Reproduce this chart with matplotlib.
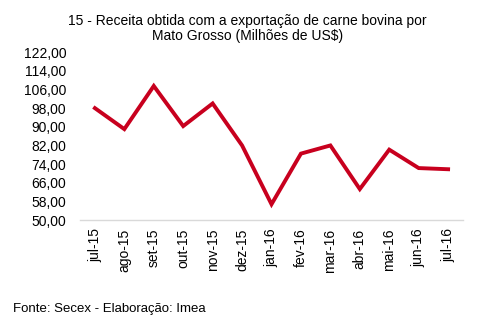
import matplotlib
matplotlib.use("Agg")
import matplotlib.pyplot as plt

plt.rcParams['font.family'] = ['Liberation Sans', 'DejaVu Sans']

meses = ['jul-15', 'ago-15', 'set-15', 'out-15', 'nov-15', 'dez-15', 'jan-16',
         'fev-16', 'mar-16', 'abr-16', 'mai-16', 'jun-16', 'jul-16']
receita = [98.0, 89.0, 107.5, 90.3, 100.0, 82.0, 56.8,
           78.5, 82.0, 63.3, 80.2, 72.3, 71.8]
yticks = [50, 58, 66, 74, 82, 90, 98, 106, 114, 122]

fig = plt.figure(figsize=(4.95, 3.28), dpi=100)
ax = fig.add_axes([0.162, 0.329, 0.773, 0.512])

x = list(range(len(meses)))
ax.plot(x, receita, color='#C8001E', linewidth=2.8, solid_joinstyle='miter')

ax.set_xlim(-0.5, len(meses) - 0.5)
ax.set_ylim(50, 122)
ax.set_yticks(yticks)
ax.set_yticklabels([('%.2f' % v).replace('.', ',') for v in yticks])
ax.set_xticks(x)
ax.set_xticklabels(meses, rotation=90)

for s in ['top', 'right', 'left']:
    ax.spines[s].set_visible(False)
ax.spines['bottom'].set_color('#D9D9D9')
ax.spines['bottom'].set_linewidth(1.0)
ax.tick_params(axis='both', length=0, labelsize=10, colors='black')
ax.tick_params(axis='y', pad=10)
ax.tick_params(axis='x', pad=6)

fig.text(0.5, 0.913, '15 - Receita obtida com a exportação de carne bovina por\nMato Grosso (Milhões de US$)',
         ha='center', va='center', fontsize=10, linespacing=1.1)
fig.text(0.026, 0.058, 'Fonte: Secex - Elaboração: Imea', ha='left', va='center', fontsize=9.5)

fig.savefig('out.png', dpi=100)
